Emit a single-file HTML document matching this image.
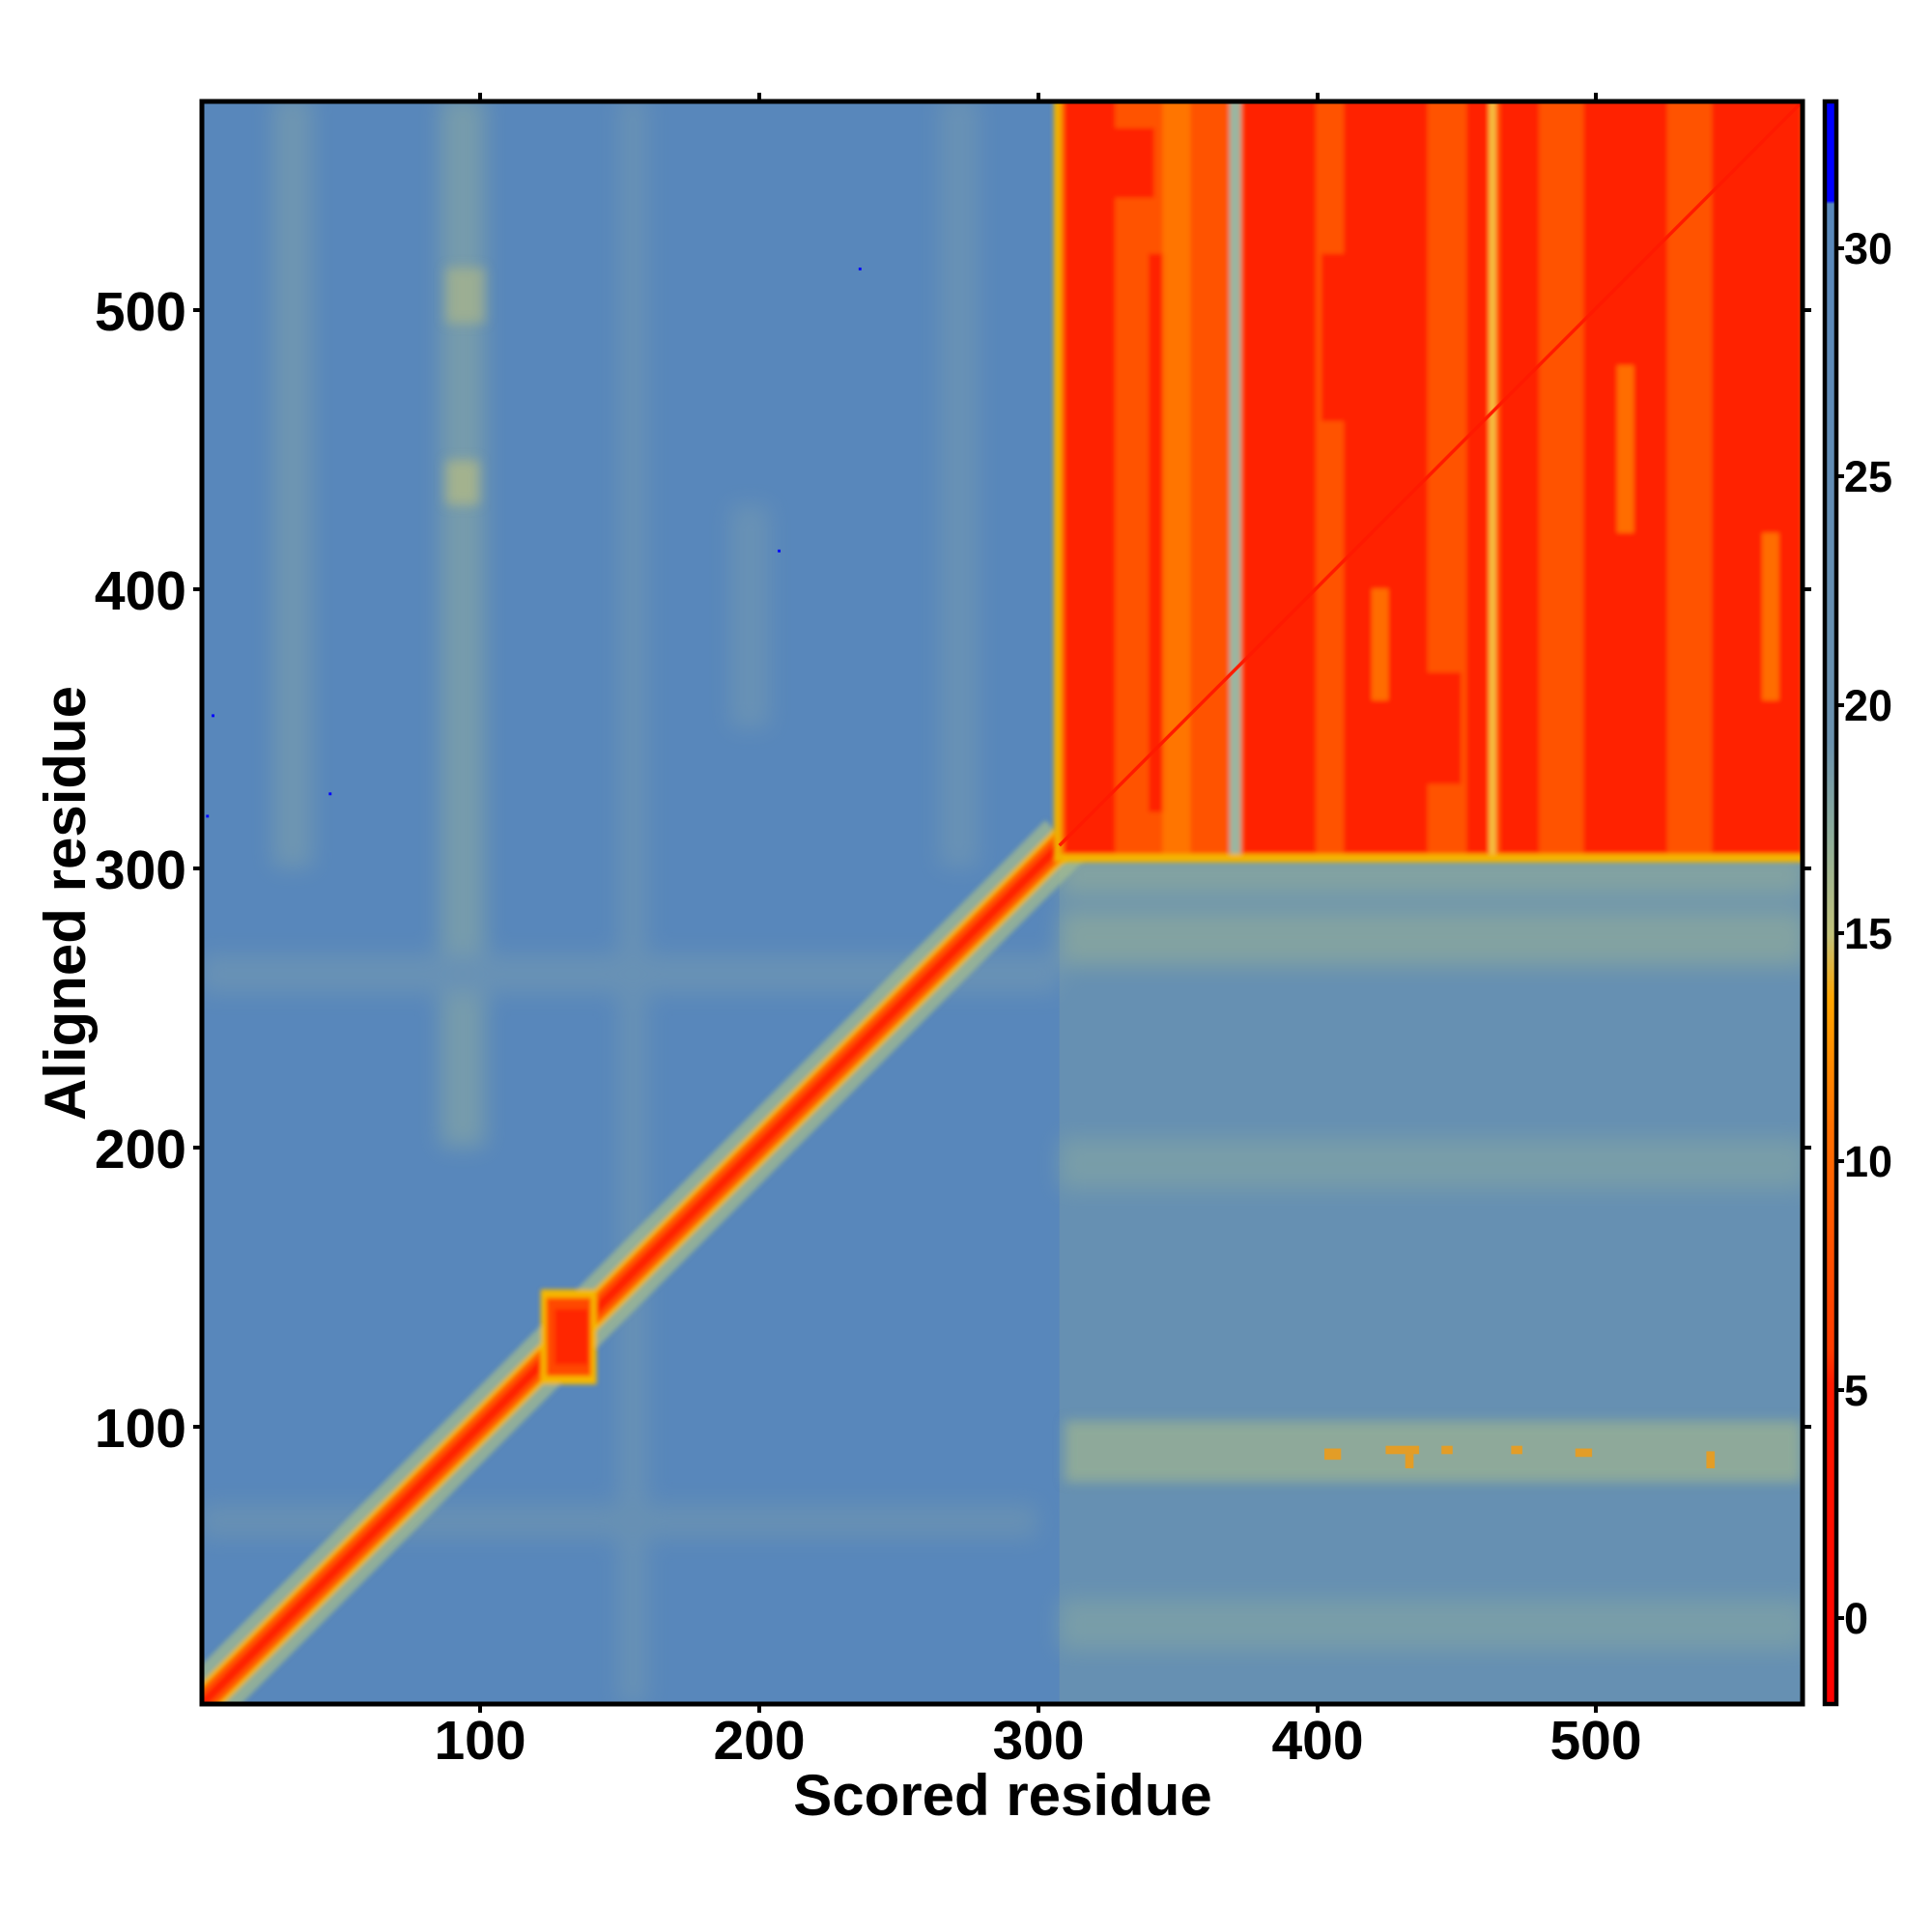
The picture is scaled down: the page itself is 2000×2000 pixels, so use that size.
<!DOCTYPE html>
<html><head><meta charset="utf-8"><style>
html,body{margin:0;padding:0;background:#fff;}
svg{display:block;}
text{font-family:"Liberation Sans",Arial,sans-serif;font-weight:bold;fill:#000;}
</style></head><body>
<svg width="2000" height="2000" viewBox="0 0 2000 2000" xmlns="http://www.w3.org/2000/svg">
<defs>
<filter id="b2" x="-10%" y="-10%" width="120%" height="120%"><feGaussianBlur stdDeviation="2"/></filter>
<filter id="b4" x="-20%" y="-20%" width="140%" height="140%"><feGaussianBlur stdDeviation="4"/></filter>
<filter id="b1"><feGaussianBlur stdDeviation="0.8"/></filter>
<linearGradient id="cb" x1="0" y1="0" x2="0" y2="1">
<stop offset="0" stop-color="#0000ff"/>
<stop offset="0.062" stop-color="#0000ff"/>
<stop offset="0.064" stop-color="#5887bb"/>
<stop offset="0.40" stop-color="#6a91ad"/>
<stop offset="0.46" stop-color="#8fae9a"/>
<stop offset="0.52" stop-color="#c2c27a"/>
<stop offset="0.56" stop-color="#ffa500"/>
<stop offset="0.64" stop-color="#ff7000"/>
<stop offset="0.72" stop-color="#ff5000"/>
<stop offset="0.78" stop-color="#ff3a00"/>
<stop offset="0.80" stop-color="#ff1a00"/>
<stop offset="1" stop-color="#ff0000"/>
</linearGradient>
<clipPath id="pc"><rect x="0.5" y="0.5" width="574" height="574"/></clipPath>
</defs>

<g transform="translate(209,1764) scale(2.8868,-2.8902) translate(-0.5,-0.5)">
<g clip-path="url(#pc)">
<rect x="0" y="0" width="576" height="576" fill="#5887bb"/>
<rect x="308" y="0" width="268" height="305" fill="#6690b2"/>
<g filter="url(#b4)" opacity="0.45">
 <rect x="86" y="200" width="16" height="376" fill="#9cb59a"/>
 <rect x="26" y="300" width="14" height="276" fill="#8aa8a6"/>
 <rect x="150" y="0" width="10" height="576" fill="#7d9fae"/>
 <rect x="265" y="300" width="14" height="276" fill="#7d9fae"/>
 <rect x="190" y="350" width="14" height="80" fill="#7d9fae"/>
 <rect x="0" y="255" width="308" height="14" fill="#7d9fae"/>
 <rect x="0" y="60" width="300" height="12" fill="#7a9cab"/>
 <rect x="308" y="265" width="268" height="20" fill="#a6b98e"/>
 <rect x="308" y="185" width="268" height="18" fill="#90ae9e"/>
 <rect x="308" y="20" width="268" height="18" fill="#90ae9e"/>
 <rect x="308" y="290" width="268" height="15" fill="#a6b98e"/>
</g>
<g filter="url(#b2)">
 <rect x="310" y="80" width="264" height="22" fill="#a9bb8a" opacity="0.6"/>
 <rect x="88" y="430" width="12" height="16" fill="#c2c27a" opacity="0.6"/>
 <rect x="88" y="495" width="14" height="20" fill="#c2c27a" opacity="0.5"/>
</g>
<g fill="#ff9a00" opacity="0.75">
 <rect x="403" y="88" width="6" height="4"/><rect x="425" y="90" width="12" height="3"/>
 <rect x="432" y="85" width="3" height="5"/><rect x="445" y="90" width="4" height="3"/>
 <rect x="470" y="90" width="4" height="3"/><rect x="493" y="89" width="6" height="3"/>
 <rect x="540" y="85" width="3" height="6"/>
</g>
<g filter="url(#b1)">
 <line x1="-5" y1="-5" x2="310" y2="310" stroke="#a8bf8c" stroke-width="20" opacity="0.7"/>
 <line x1="-5" y1="-5" x2="310" y2="310" stroke="#f5b800" stroke-width="11"/>
 <line x1="-5" y1="-5" x2="310" y2="310" stroke="#ff5500" stroke-width="8"/>
 <line x1="-5" y1="-5" x2="310" y2="310" stroke="#ff2000" stroke-width="3.5"/>
 <rect x="122" y="115" width="20" height="34" fill="#f5b800"/>
 <rect x="124" y="118" width="16" height="28" fill="#ff4a00"/>
 <rect x="127" y="122" width="12" height="20" fill="#ff2800"/>
</g>
<g filter="url(#b1)">
<rect x="306" y="302" width="270" height="274" fill="#f4b400"/>
<rect x="308" y="305" width="268" height="271" fill="#ff5300"/>
<g fill="#ff2400">
 <rect x="310" y="305" width="18" height="271"/>
 <rect x="340" y="320" width="6" height="200"/>
 <rect x="374" y="305" width="26" height="271"/>
 <rect x="410" y="305" width="30" height="271"/>
 <rect x="454" y="305" width="8" height="271"/>
 <rect x="466" y="305" width="14" height="271"/>
 <rect x="496" y="305" width="30" height="271"/>
 <rect x="542" y="305" width="32" height="271"/>
 <rect x="402" y="460" width="8" height="60"/>
 <rect x="440" y="330" width="12" height="40"/>
 <rect x="328" y="540" width="14" height="25"/>
</g>
<g fill="#ff7a00" opacity="0.85">
 <rect x="345" y="305" width="10" height="271"/>
 <rect x="420" y="360" width="6" height="40"/>
 <rect x="508" y="420" width="6" height="60"/>
 <rect x="560" y="360" width="6" height="60"/>
</g>
<rect x="369" y="305" width="4" height="271" fill="#9ab6a0"/>
<rect x="462" y="305" width="2.5" height="271" fill="#f4c040"/>
<rect x="306" y="302" width="3" height="274" fill="#f0b000" opacity="0.8"/>
</g>
<line x1="308" y1="308" x2="576" y2="576" stroke="#ff1a00" stroke-width="1.2"/>
<g fill="#0000ff">
 <rect x="236" y="514" width="1" height="1"/><rect x="207" y="413" width="1" height="1"/>
 <rect x="4" y="354" width="1" height="1"/><rect x="46" y="326" width="1" height="1"/>
 <rect x="2" y="318" width="1" height="1"/>
</g>
</g>
</g>

<rect x="209" y="105" width="1657" height="1659" fill="none" stroke="#000" stroke-width="5"/>
<g stroke="#000" stroke-width="4">
 <line x1="497" y1="1764" x2="497" y2="1773"/><line x1="786" y1="1764" x2="786" y2="1773"/>
 <line x1="1075" y1="1764" x2="1075" y2="1773"/><line x1="1364" y1="1764" x2="1364" y2="1773"/>
 <line x1="1652" y1="1764" x2="1652" y2="1773"/>
 <line x1="497" y1="105" x2="497" y2="96"/><line x1="786" y1="105" x2="786" y2="96"/>
 <line x1="1075" y1="105" x2="1075" y2="96"/><line x1="1364" y1="105" x2="1364" y2="96"/>
 <line x1="1652" y1="105" x2="1652" y2="96"/>
 <line x1="200" y1="1477" x2="209" y2="1477"/><line x1="200" y1="1188" x2="209" y2="1188"/>
 <line x1="200" y1="899" x2="209" y2="899"/><line x1="200" y1="610" x2="209" y2="610"/>
 <line x1="200" y1="321" x2="209" y2="321"/>
 <line x1="1866" y1="1477" x2="1875" y2="1477"/><line x1="1866" y1="1188" x2="1875" y2="1188"/>
 <line x1="1866" y1="899" x2="1875" y2="899"/><line x1="1866" y1="610" x2="1875" y2="610"/>
 <line x1="1866" y1="321" x2="1875" y2="321"/>
</g>
<g font-size="57" text-anchor="middle">
 <text x="497" y="1821">100</text><text x="786" y="1821">200</text>
 <text x="1075" y="1821">300</text><text x="1364" y="1821">400</text>
 <text x="1652" y="1821">500</text>
</g>
<g font-size="57" text-anchor="end">
 <text x="193" y="1498">100</text><text x="193" y="1209">200</text>
 <text x="193" y="920">300</text><text x="193" y="631">400</text>
 <text x="193" y="342">500</text>
</g>
<text x="1038" y="1879" font-size="60" text-anchor="middle">Scored residue</text>
<text x="0" y="0" font-size="60" text-anchor="middle" transform="translate(88,935) rotate(-90)">Aligned residue</text>

<rect x="1889" y="105" width="12" height="1659" fill="url(#cb)" stroke="#000" stroke-width="4.5"/>
<g stroke="#000" stroke-width="4">
 <line x1="1899" y1="257" x2="1909" y2="257"/><line x1="1899" y1="493" x2="1909" y2="493"/>
 <line x1="1899" y1="730" x2="1909" y2="730"/><line x1="1899" y1="966" x2="1909" y2="966"/>
 <line x1="1899" y1="1202" x2="1909" y2="1202"/><line x1="1899" y1="1439" x2="1909" y2="1439"/>
 <line x1="1899" y1="1675" x2="1909" y2="1675"/>
</g>
<g font-size="45">
 <text x="1909" y="273">30</text><text x="1909" y="509">25</text>
 <text x="1909" y="746">20</text><text x="1909" y="982">15</text>
 <text x="1909" y="1218">10</text><text x="1909" y="1455">5</text>
 <text x="1909" y="1691">0</text>
</g>
</svg>
</body></html>
